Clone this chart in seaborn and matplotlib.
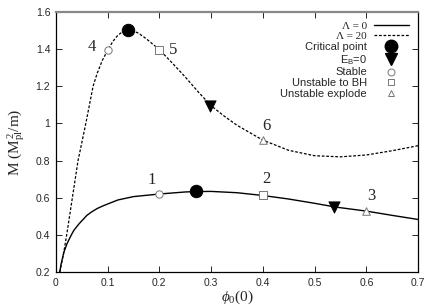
import numpy as np
import pandas as pd
import matplotlib
matplotlib.use('Agg')
import matplotlib.pyplot as plt
import seaborn as sns
from matplotlib.lines import Line2D

# Lambda = 0 branch (solid)
phi_l0 = [0.0077, 0.01, 0.0155, 0.022, 0.03, 0.035, 0.045, 0.053, 0.06, 0.07,
          0.08, 0.091, 0.1, 0.12, 0.15, 0.2, 0.25, 0.27, 0.3, 0.35, 0.4, 0.45,
          0.5, 0.54, 0.6, 0.65, 0.7]
M_l0 = [0.20, 0.24, 0.306, 0.355, 0.40, 0.425, 0.46, 0.484, 0.505, 0.525,
        0.542, 0.556, 0.566, 0.588, 0.606, 0.62, 0.631, 0.633, 0.634, 0.627,
        0.612, 0.593, 0.570, 0.55, 0.528, 0.505, 0.483]

# Lambda = 20 branch (dashed)
phi_l20 = [0.0077, 0.015, 0.021, 0.032, 0.043, 0.058, 0.072, 0.08, 0.09, 0.1,
           0.11, 0.12, 0.13, 0.139, 0.15, 0.16, 0.175, 0.2, 0.225, 0.25, 0.275,
           0.3, 0.325, 0.35, 0.4, 0.45, 0.5, 0.55, 0.6, 0.65, 0.7]
M_l20 = [0.20, 0.30, 0.40, 0.60, 0.80, 1.0, 1.20, 1.27, 1.34, 1.393, 1.44,
         1.475, 1.495, 1.50, 1.497, 1.485, 1.455, 1.397, 1.325, 1.25, 1.17,
         1.095, 1.04, 0.99, 0.91, 0.855, 0.826, 0.82, 0.83, 0.853, 0.88]

# special points (Lambda=0, Lambda=20)
critical_phi = [0.27, 0.139]
critical_M = [0.634, 1.50]
eb0_phi = [0.538, 0.298]
eb0_M = [0.55, 1.095]
stable_phi = [0.2, 0.1]
stable_M = [0.62, 1.393]
bh_phi = [0.4, 0.2]
bh_M = [0.612, 1.397]
explode_phi = [0.6, 0.4]
explode_M = [0.528, 0.91]

point_labels = ['1', '2', '3', '4', '5', '6']
label_phi = [0.185, 0.406, 0.609, 0.07, 0.226, 0.406]
label_M = [0.695, 0.70, 0.609, 1.413, 1.397, 0.986]

sns.set_style('ticks')
plt.rcParams['font.family'] = ['Liberation Sans', 'DejaVu Sans']
plt.rcParams['mathtext.fontset'] = 'custom'
plt.rcParams['mathtext.rm'] = 'Liberation Serif'
plt.rcParams['mathtext.it'] = 'Liberation Serif:italic'
plt.rcParams['mathtext.sf'] = 'Liberation Sans'

fig = plt.figure(figsize=(4.36, 3.05), dpi=100)
ax = fig.add_axes([0.128, 0.108, 0.831, 0.853])

sns.lineplot(x=phi_l0, y=M_l0, ax=ax, color='black', lw=1.0, sort=True)
sns.lineplot(x=phi_l20, y=M_l20, ax=ax, color='black', lw=0.9, sort=True,
             linestyle=(0, (2.2, 1.4)))

sns.scatterplot(x=critical_phi, y=critical_M, ax=ax, marker='o', s=80,
                color='black', edgecolor='black', zorder=5)
sns.scatterplot(x=eb0_phi, y=eb0_M, ax=ax, marker='v', s=65,
                color='black', edgecolor='black', zorder=5)
sns.scatterplot(x=stable_phi, y=stable_M, ax=ax, marker='o', s=28,
                facecolor='white', edgecolor='#777777', linewidth=0.7, zorder=5)
sns.scatterplot(x=bh_phi, y=bh_M, ax=ax, marker='s', s=28,
                facecolor='white', edgecolor='#777777', linewidth=0.7, zorder=5)
sns.scatterplot(x=explode_phi, y=explode_M, ax=ax, marker='^', s=30,
                facecolor='white', edgecolor='#777777', linewidth=0.7, zorder=5)

for t, x, y in zip(point_labels, label_phi, label_M):
    ax.text(x, y, t, ha='center', va='center', fontsize=12,
            family='Liberation Serif')

ax.set_xlim(0, 0.7)
ax.set_ylim(0.2, 1.6)
xt = np.round(np.arange(0, 0.71, 0.1), 1)
yt = np.round(np.arange(0.2, 1.61, 0.2), 1)
ax.set_xticks(xt)
ax.set_xticklabels(['0'] + [f'{v:g}' for v in xt[1:]])
ax.set_yticks(yt)
ax.set_yticklabels([f'{v:g}' for v in yt])
ax.tick_params(direction='in', top=True, right=True, length=4, width=0.7,
               labelsize=7.5, pad=4)
for s in ['left', 'right', 'bottom']:
    ax.spines[s].set_linewidth(0.9)
    ax.spines[s].set_color('black')
ax.spines['top'].set_linewidth(1.6)
ax.spines['top'].set_color('#888888')

ax.set_xlabel(r'$\phi_0$(0)', fontsize=11, family='Liberation Serif', labelpad=1)
ax.set_ylabel(r'M (M$_{\mathrm{pl}}^{\,2}$/m)', fontsize=11,
              family='Liberation Serif', labelpad=6)

handles = [
    Line2D([], [], color='black', lw=1.0),
    Line2D([], [], color='black', lw=0.9, linestyle=(0, (2.2, 1.4))),
    Line2D([], [], marker='o', ls='none', color='black', ms=9),
    Line2D([], [], marker='v', ls='none', color='black', ms=8),
    Line2D([], [], marker='o', ls='none', mfc='white', mec='#777777', ms=5, mew=0.7),
    Line2D([], [], marker='s', ls='none', mfc='white', mec='#777777', ms=5, mew=0.7),
    Line2D([], [], marker='^', ls='none', mfc='white', mec='#777777', ms=5, mew=0.7),
]
labels = ['Λ = 0', 'Λ = 20', 'Critical point', r'E$_\mathsf{B}$=0', 'Stable',
          'Unstable to BH', 'Unstable explode']
leg = ax.legend(handles, labels, loc='upper right', frameon=False, fontsize=8,
                markerfirst=False, handlelength=3.2, handletextpad=0.6,
                labelspacing=0.08, borderaxespad=0.4, bbox_to_anchor=(1.0, 1.0))
for t in leg.get_texts()[:2]:
    t.set_family('Liberation Serif')

fig.savefig('out.png', dpi=100)
